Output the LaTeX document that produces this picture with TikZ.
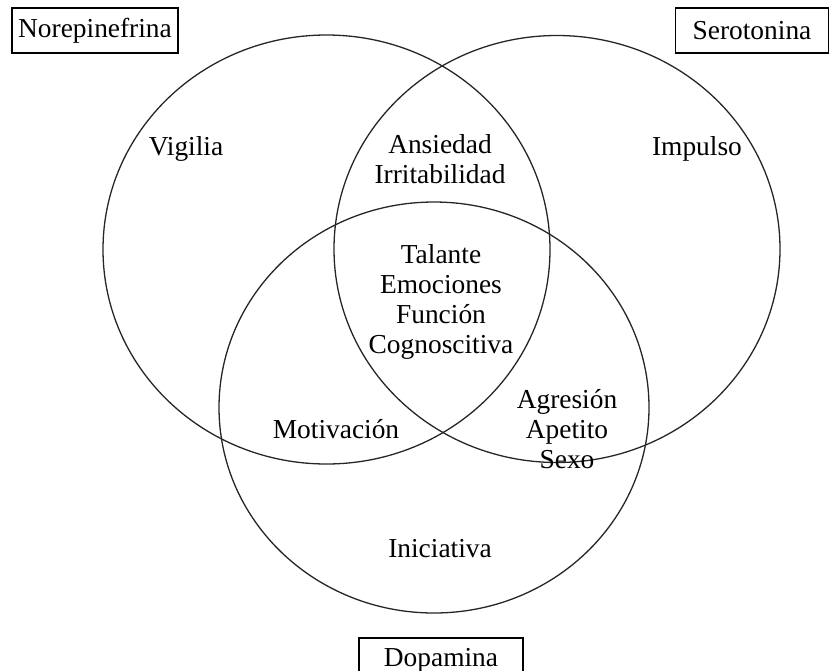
\documentclass[tikz,border=0pt]{standalone}
\usepackage{fontspec}
\setmainfont{Liberation Serif}
\tikzset{
	rasgo/.style={align=center, inner sep=0pt, text=black, font=\fontsize{13.7}{15}\selectfont},
	neuro/.style={draw, line width=0.6pt, minimum height=22.5pt, minimum width=82pt, inner sep=0pt, font=\fontsize{13.7}{15}\selectfont},
	conjunto/.style={line width=0.65pt, draw=black!85}
}
\begin{document}
\begin{tikzpicture}[x=0.5pt, y=-0.5pt]
				\useasboundingbox (0,0) rectangle (829,670);
				% conjuntos
				\draw[conjunto] (326.5,249.5) ellipse [x radius=223.5, y radius=214.5];
				\draw[conjunto] (557,249) ellipse [x radius=223, y radius=213.5];
				\draw[conjunto] (434,407.5) ellipse [x radius=215, y radius=205.5];
				% neurotransmisores
				\node[neuro, minimum width=83pt] (NE) at (95,30.5) {Norepinefrina};
				\node[neuro, minimum width=76.5pt] (SE) at (752,30.5) {Serotonina};
				\node[neuro] (DA) at (441,660.5) {Dopamina};
				% funciones
				\node[rasgo] (vig) at (186,149) {Vigilia};
				\node[rasgo] (imp) at (697,149) {Impulso};
				\node[rasgo] (ans) at (440,159) {Ansiedad\\Irritabilidad};
				\node[rasgo] (tal) at (441,302) {Talante\\Emociones\\Función\\Cognoscitiva};
				\node[rasgo] (mot) at (336,429) {Motivación};
				\node[rasgo] (agr) at (567,429) {Agresión\\Apetito\\Sexo};
				\node[rasgo] (ini) at (440,549) {Iniciativa};
			\end{tikzpicture}
\end{document}
